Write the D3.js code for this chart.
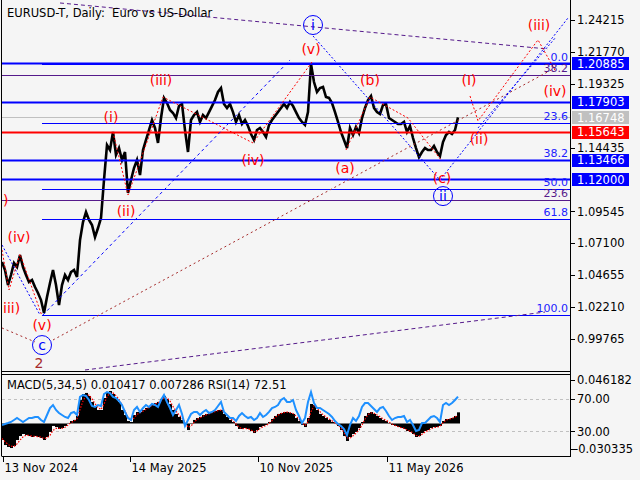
<!DOCTYPE html>
<html><head><meta charset="utf-8">
<script src="https://cdn.jsdelivr.net/npm/d3@7"></script>
<style>body{margin:0;background:#f5f5f5;} svg{display:block;} text{white-space:pre;}</style>
</head><body>
<svg id="c" width="640" height="480"></svg>
<script>
// ---------- DATA ----------
const barStep = 3; // one sample every 3 daily bars
const closes = [
1.0567,1.0505,1.0390,1.0467,1.0559,1.0528,1.0620,1.0528,1.0467,1.0413,
1.0429,1.0375,1.0329,1.0275,1.0176,1.0298,1.0406,1.0505,1.0390,1.0237,
1.0390,1.0467,1.0429,1.0490,1.0505,1.0452,1.0735,1.0873,1.0950,1.0889,
1.0850,1.0758,1.0827,1.0904,1.1195,1.1463,1.1425,1.1563,1.1387,1.1440,
1.1348,1.1410,1.1096,1.1195,1.1287,1.1348,1.1233,1.1425,1.1502,1.1578,
1.1655,1.1594,1.1479,1.1670,1.1824,1.1785,1.1732,1.1709,1.1670,1.1762,
1.1778,1.1578,1.1410,1.1655,1.1693,1.1716,1.1640,1.1693,1.1670,1.1716,
1.1762,1.1808,1.1870,1.1900,1.1778,1.1747,1.1778,1.1716,1.1640,1.1693,
1.1624,1.1655,1.1609,1.1548,1.1502,1.1578,1.1594,1.1563,1.1525,1.1617,
1.1655,1.1686,1.1716,1.1747,1.1778,1.1747,1.1793,1.1762,1.1716,1.1670,
1.1640,1.1617,1.1716,1.2084,1.1946,1.1870,1.1900,1.1908,1.1831,1.1824,
1.1785,1.1716,1.1640,1.1563,1.1502,1.1440,1.1594,1.1540,1.1601,1.1555,
1.1670,1.1747,1.1808,1.1839,1.1747,1.1716,1.1701,1.1770,1.1778,1.1670,
1.1655,1.1640,1.1624,1.1624,1.1640,1.1563,1.1609,1.1517,1.1440,1.1371,
1.1410,1.1440,1.1425,1.1425,1.1456,1.1410,1.1379,1.1486,1.1540,1.1563,
1.1548,1.1578,1.1675];
const macdMain = [
-0.0154,-0.0201,-0.0219,-0.0229,-0.0210,-0.0154,-0.0117,-0.0098,-0.0107,-0.0117,
-0.0126,-0.0117,-0.0126,-0.0135,-0.0154,-0.0126,-0.0079,-0.0023,-0.0033,-0.0051,
-0.0042,-0.0023,0.0005,0.0023,0.0033,0.0070,0.0219,0.0275,0.0285,0.0257,
0.0201,0.0154,0.0126,0.0126,0.0238,0.0294,0.0303,0.0275,0.0238,0.0201,
0.0126,0.0079,0.0023,0.0014,0.0079,0.0107,0.0107,0.0126,0.0145,0.0163,
0.0182,0.0191,0.0201,0.0229,0.0257,0.0229,0.0182,0.0126,0.0089,0.0061,
0.0033,-0.0014,-0.0061,-0.0005,0.0033,0.0051,0.0061,0.0079,0.0089,0.0098,
0.0107,0.0117,0.0126,0.0126,0.0089,0.0061,0.0033,0.0014,-0.0023,-0.0051,
-0.0051,-0.0042,-0.0051,-0.0070,-0.0089,-0.0061,-0.0033,-0.0023,-0.0014,0.0014,
0.0042,0.0070,0.0089,0.0098,0.0107,0.0107,0.0098,0.0089,0.0051,0.0023,
-0.0014,-0.0033,0.0051,0.0182,0.0173,0.0126,0.0089,0.0070,0.0051,0.0033,
0.0014,-0.0005,-0.0023,-0.0061,-0.0117,-0.0163,-0.0126,-0.0098,-0.0079,-0.0042,
0.0014,0.0070,0.0098,0.0107,0.0089,0.0070,0.0051,0.0033,0.0023,0.0005,
-0.0014,-0.0023,-0.0033,-0.0042,-0.0051,-0.0070,-0.0079,-0.0098,-0.0126,-0.0117,
-0.0089,-0.0070,-0.0061,-0.0042,-0.0033,-0.0033,-0.0023,0.0023,0.0042,0.0042,
0.0051,0.0070,0.010417];
const macdSignal = [
-0.0140,-0.0170,-0.0195,-0.0212,-0.0215,-0.0190,-0.0155,-0.0125,-0.0110,-0.0110,
-0.0118,-0.0120,-0.0122,-0.0128,-0.0140,-0.0135,-0.0110,-0.0065,-0.0045,-0.0045,
-0.0045,-0.0035,-0.0015,0.0008,0.0022,0.0045,0.0130,0.0210,0.0260,0.0265,
0.0230,0.0185,0.0150,0.0130,0.0180,0.0250,0.0285,0.0285,0.0260,0.0225,
0.0170,0.0115,0.0060,0.0030,0.0050,0.0085,0.0100,0.0115,0.0132,0.0150,
0.0168,0.0182,0.0192,0.0212,0.0240,0.0240,0.0210,0.0160,0.0115,0.0080,
0.0050,0.0010,-0.0035,-0.0025,0.0010,0.0038,0.0052,0.0068,0.0080,0.0090,
0.0100,0.0110,0.0120,0.0125,0.0105,0.0078,0.0050,0.0025,-0.0005,-0.0035,
-0.0048,-0.0046,-0.0048,-0.0060,-0.0078,-0.0070,-0.0048,-0.0030,-0.0020,0.0000,
0.0025,0.0055,0.0078,0.0092,0.0102,0.0106,0.0102,0.0094,0.0070,0.0040,
0.0008,-0.0020,0.0015,0.0110,0.0165,0.0145,0.0110,0.0082,0.0062,0.0043,
0.0025,0.0005,-0.0012,-0.0040,-0.0085,-0.0135,-0.0138,-0.0115,-0.0090,-0.0060,
-0.0015,0.0040,0.0082,0.0100,0.0095,0.0080,0.0062,0.0044,0.0030,0.0014,
-0.0004,-0.0018,-0.0028,-0.0038,-0.0046,-0.0060,-0.0072,-0.0088,-0.0112,-0.0118,
-0.0100,-0.0080,-0.0066,-0.0050,-0.0038,-0.0034,-0.0026,0.0005,0.0032,0.0040,
0.0048,0.0062,0.007286];
const rsiValues = [
37.8,39.0,40.2,41.5,43.9,46.3,43.9,41.5,43.9,46.3,
46.3,47.6,47.6,43.9,41.5,50.0,58.5,62.2,56.1,52.4,
50.0,47.6,46.3,52.4,53.7,50.0,72.0,74.4,73.2,68.3,
61.0,59.8,62.2,61.0,75.6,78.0,76.8,72.0,70.7,67.1,
62.2,53.7,46.3,43.9,56.1,59.8,53.7,58.5,62.2,59.8,
63.4,62.2,59.8,68.3,74.4,65.9,58.5,50.0,56.1,62.2,
51.2,36.6,43.9,51.2,53.7,53.7,50.0,53.7,56.1,52.4,
53.7,56.1,61.0,65.9,53.7,50.0,46.3,46.3,42.7,48.8,
52.4,48.8,46.3,47.6,43.9,46.3,52.4,47.6,50.0,53.7,
58.5,59.8,62.2,68.3,70.7,65.9,65.9,68.3,56.1,48.8,
40.2,46.3,65.9,78.0,64.6,58.5,58.5,56.1,53.7,51.2,
47.6,42.7,39.0,36.6,32.9,25.6,37.8,46.3,42.7,48.8,
59.8,64.6,64.6,61.0,57.3,53.7,58.5,59.8,54.9,48.8,
43.9,46.3,47.6,47.6,48.8,41.5,43.9,37.8,30.5,31.7,
40.2,40.2,43.9,47.6,48.8,46.3,41.5,62.2,64.6,62.2,
64.6,68.3,72.51];

const priceTicks = [1.24215,1.21770,1.19325,1.16880,1.14435,1.11990,1.09545,1.07100,1.04655,1.02210,0.99765];
const blueLevels = [1.20885,1.17903,1.13466,1.12000];
const redLevels = [1.15643];
const bidLevels = [1.16748];
const rsiLevels = [70,30];
const macdRange = [-0.030335,0.046182];
const dateLabels = ["13 Nov 2024","14 May 2025","10 Nov 2025","11 May 2026"];
const dateBars = [1,128,256,385];

const fibLevels = ["0.0","23.6","38.2","50.0","61.8","100.0"];
const fibAnchor = [[40,1.0161],[310,1.2088]];       // 100% at low, 0% at high
const purpleFibLevels = ["23.6","38.2"];
const purpleFibRange = [0.9493,1.6055];              // 0% , 100%

const purpleTop = [[58,1.2552],[546,1.2199]];
const purpleBottom = [[83,0.9739],[543,1.0183]];
const brownLong = [[51,0.9969],[553,1.2054]];
const brownShort = [[0,1.0061],[33,0.9954]];
const blueChannel = [[41,1.0161],[288,1.2115]];
const blueDotA = [[311,1.2299],[438,1.1195]];
const blueDotB = [[438,1.1195],[566,1.2437]];
const blueDotC = [[476,1.1594],[554,1.2291]];
const blueDotLeft = [[0,1.0697],[38,1.0161]];
const redLeft = [[0,1.0659],[7,1.0352],[18,1.0628],[40,1.0153]];
const redMain = [[111,1.1563],[126,1.1080],[161,1.1831],[251,1.1479],[310,1.2100]];
const redABC = [[344,1.1425],[368,1.1831],[406,1.1670],[439,1.1349]];
const redProj = [[468,1.1839],[476,1.1648],[536,1.2269],[554,1.2023]];

const waveLabels = [
 ["(i)",109,1.1678],["(ii)",124,1.0958],["(iii)",159,1.1962],["(iv)",251,1.1349],
 ["(v)",309,1.2199],["(a)",343,1.1287],["(b)",368,1.1962],["(c)",440,1.1210],
 ["(I)",467,1.1962],["(ii)",477,1.1509],["(iii)",537,1.2383],["(iv)",553,1.1877],
 ["(iv)",17,1.0758],["(v)",40,1.0084]];
const edgeLabels = [["iii)",0,1.0214],[")",0,1.1042]];   // labels cut by the left edge
const circleLabels = [["i",311,1.2383],["ii",441,1.1072],["c",40,0.9930]];
const degreeLabels = [["2",37,0.9793]];

// ---------- LAYOUT ----------
const X0=2, X1=570, MT=0, MB=371, ST=374, SB=456;
const FONT = "DejaVu Sans, Verdana, sans-serif";
const svg = d3.select("#c");
const x = d3.scaleLinear().domain([0,568]).range([X0,X1]);
const y = d3.scaleLinear().domain([0.99765,1.24215]).range([339,20]);
const ym = d3.scaleLinear().domain(macdRange).range([SB,ST]);
const yr = d3.scaleLinear().domain([0,100]).range([SB,ST]);

svg.append("rect").attr("width",640).attr("height",480).attr("fill","#f5f5f5");
const defs = svg.append("defs");
defs.append("clipPath").attr("id","cm").append("rect").attr("x",X0).attr("y",MT).attr("width",X1-X0).attr("height",MB-MT);
defs.append("clipPath").attr("id","cs").append("rect").attr("x",X0).attr("y",ST).attr("width",X1-X0).attr("height",SB-ST);

const gm = svg.append("g").attr("clip-path","url(#cm)");
const hline = (g,v,color,w) => g.append("line").attr("x1",X0).attr("x2",X1)
  .attr("y1",Math.round(y(v))+0.5).attr("y2",Math.round(y(v))+0.5).attr("stroke",color).attr("stroke-width",w);

// bid line under price
bidLevels.forEach(v=>hline(gm,v,"#c0c0c0",1));

// price
const line = d3.line().x((d,i)=>x(i*barStep)).y(d=>y(d));
gm.append("path").datum(closes).attr("d",line).attr("fill","none").attr("stroke","#000").attr("stroke-width",2.6).attr("stroke-linejoin","miter");

// fibonacci (blue) thin lines
const fibPrice = L => fibAnchor[1][1] - (+L)/100*(fibAnchor[1][1]-fibAnchor[0][1]);
fibLevels.forEach(L=>{
  const yy = Math.round(y(fibPrice(L)))+0.5;
  gm.append("line").attr("x1",x(fibAnchor[0][0])).attr("x2",X1).attr("y1",yy).attr("y2",yy).attr("stroke","#0000ff").attr("stroke-width",1.2);
});
// purple fib lines
const pfPrice = L => purpleFibRange[0] + (+L)/100*(purpleFibRange[1]-purpleFibRange[0]);
purpleFibLevels.forEach(L=>hline(gm,pfPrice(L),"#551a8b",1.2));

blueLevels.forEach(v=>hline(gm,v,"#0000ff",2.2));
redLevels.forEach(v=>hline(gm,v,"#ff0000",2.2));

// trend lines
const tl = d3.line().x(d=>x(d[0])).y(d=>y(d[1]));
const drawTL = (pts,color,dash,w=1)=> gm.append("path").datum(pts).attr("d",tl).attr("fill","none")
  .attr("stroke",color).attr("stroke-width",w).attr("stroke-dasharray",dash);
drawTL(purpleTop,"#551a8b","4 3");
drawTL(purpleBottom,"#551a8b","4 3");
drawTL(brownLong,"#a52a2a","2 3");
drawTL(brownShort,"#a52a2a","2 3");
drawTL(blueChannel,"#0000ff","3 3");
drawTL(blueDotA,"#0000ff","2 2");
drawTL(blueDotB,"#0000ff","2 2");
drawTL(blueDotC,"#0000ff","2 2");
drawTL(blueDotLeft,"#0000ff","2 2");
drawTL(redLeft,"#ff0000","2 2");
drawTL(redMain,"#ff0000","2 2");
drawTL(redABC,"#ff0000","2 2");
drawTL(redProj,"#ff0000","2 2");

// fib labels
fibLevels.forEach(L=>{
  gm.append("text").attr("x",568).attr("y",y(fibPrice(L))-3).attr("text-anchor","end")
    .attr("font-family",FONT).attr("font-size",11).attr("fill","#2020ff").text(L);
});
purpleFibLevels.forEach(L=>{
  gm.append("text").attr("x",568).attr("y",y(pfPrice(L))-3).attr("text-anchor","end")
    .attr("font-family",FONT).attr("font-size",11).attr("fill","#551a8b").text(L);
});

// wave labels
waveLabels.forEach(([t,i,p])=>{
  gm.append("text").attr("x",x(i)).attr("y",y(p)).attr("dy","0.36em").attr("text-anchor","middle")
    .attr("font-family",FONT).attr("font-size",14).attr("fill","#ff0000").text(t);
});
edgeLabels.forEach(([t,i,p])=>{
  gm.append("text").attr("x",x(i)+1).attr("y",y(p)).attr("dy","0.36em").attr("text-anchor","start")
    .attr("font-family",FONT).attr("font-size",14).attr("fill","#ff0000").text(t);
});
circleLabels.forEach(([t,i,p])=>{
  gm.append("circle").attr("cx",x(i)).attr("cy",y(p)).attr("r",9.5).attr("fill","none").attr("stroke","#0000ff").attr("stroke-width",1);
  gm.append("text").attr("x",x(i)).attr("y",y(p)).attr("dy","0.36em").attr("text-anchor","middle")
    .attr("font-family",FONT).attr("font-size",14).attr("fill","#0000ff").text(t);
});
degreeLabels.forEach(([t,i,p])=>{
  gm.append("text").attr("x",x(i)).attr("y",y(p)).attr("dy","0.36em").attr("text-anchor","middle")
    .attr("font-family",FONT).attr("font-size",14).attr("fill","#a52a2a").text(t);
});

// title
svg.append("text").attr("x",7).attr("y",16.5).attr("font-family",FONT).attr("font-size",11.5).attr("fill","#000")
  .attr("xml:space","preserve").text("EURUSD-T, Daily:  Euro vs US-Dollar");

// ---------- SUB WINDOW ----------
const gs = svg.append("g").attr("clip-path","url(#cs)");
rsiLevels.forEach(v=>{
  const yy=Math.round(yr(v))+0.5;
  gs.append("line").attr("x1",X0).attr("x2",X1).attr("y1",yy).attr("y2",yy).attr("stroke","#c0c0c0").attr("stroke-dasharray","3 3");
});
gs.selectAll("rect.h").data(macdMain).join("rect")
  .attr("x",(d,i)=>x(i*barStep)-1).attr("width",x(barStep)-x(0))
  .attr("y",d=>Math.min(ym(d),ym(0))).attr("height",d=>Math.abs(ym(d)-ym(0)))
  .attr("fill","#000");
gs.append("path").datum(macdSignal).attr("d",d3.line().x((d,i)=>x(i*barStep)).y(d=>ym(d)))
  .attr("fill","none").attr("stroke","#ff0000").attr("stroke-width",1.2).attr("stroke-dasharray","1.5 1.5");
gs.append("path").datum(rsiValues).attr("d",d3.line().x((d,i)=>x(i*barStep)).y(d=>yr(d)))
  .attr("fill","none").attr("stroke","#1e90ff").attr("stroke-width",2);
svg.append("text").attr("x",7).attr("y",389).attr("font-family",FONT).attr("font-size",11.5).attr("fill","#000")
  .text("MACD(5,34,5) 0.010417 0.007286 RSI(14) 72.51");

// ---------- FRAMES ----------
const fr = (x1,y1,x2,y2)=>svg.append("line").attr("x1",x1).attr("y1",y1).attr("x2",x2).attr("y2",y2).attr("stroke","#000").attr("stroke-width",1);
fr(X0-0.5,0,X0-0.5,SB+0.5);
fr(X1+0.5,0,X1+0.5,SB+0.5);
fr(X0,MB+0.5,X1,MB+0.5);
fr(X0,ST+0.5,X1,ST+0.5);
fr(X0,SB+0.5,X1+1,SB+0.5);

// ---------- RIGHT AXIS ----------
const axisLabel = (yy,t,color="#000",xx=577)=>{
  svg.append("line").attr("x1",X1).attr("x2",X1+5).attr("y1",Math.round(yy)+0.5).attr("y2",Math.round(yy)+0.5).attr("stroke","#000");
  svg.append("text").attr("x",xx).attr("y",yy).attr("dy","0.36em").attr("font-family",FONT).attr("font-size",11.5).attr("fill",color).text(t);
};
const boxed = blueLevels.concat(redLevels,bidLevels);
priceTicks.filter(v=>boxed.every(b=>Math.abs(y(b)-y(v))>9)).forEach(v=>axisLabel(y(v),v.toFixed(5)));
const box = (v,fill)=>{
  const yy=y(v);
  svg.append("rect").attr("x",X1+2).attr("y",Math.round(yy)-6).attr("width",57).attr("height",13).attr("fill",fill);
  svg.append("text").attr("x",577).attr("y",yy).attr("dy","0.36em").attr("font-family",FONT).attr("font-size",11.5).attr("fill","#fff").text(v.toFixed(5));
};
blueLevels.forEach(v=>box(v,"#0000ff"));
redLevels.forEach(v=>box(v,"#ff0000"));
bidLevels.forEach(v=>box(v,"#c0c0c0"));

// sub axis
axisLabel(ST+6, macdRange[1].toFixed(6));
rsiLevels.forEach(v=>axisLabel(yr(v), v.toFixed(2)));
axisLabel(SB-7, macdRange[0].toFixed(6),"#000",574);

// ---------- DATE AXIS ----------
dateBars.forEach((b,i)=>{
  const xx=Math.round(x(b))+0.5;
  svg.append("line").attr("x1",xx).attr("x2",xx).attr("y1",SB).attr("y2",SB+6).attr("stroke","#000");
  svg.append("text").attr("x",xx+1).attr("y",472).attr("font-family",FONT).attr("font-size",11.5).attr("fill","#000").text(dateLabels[i]);
});
</script>
</body></html>
